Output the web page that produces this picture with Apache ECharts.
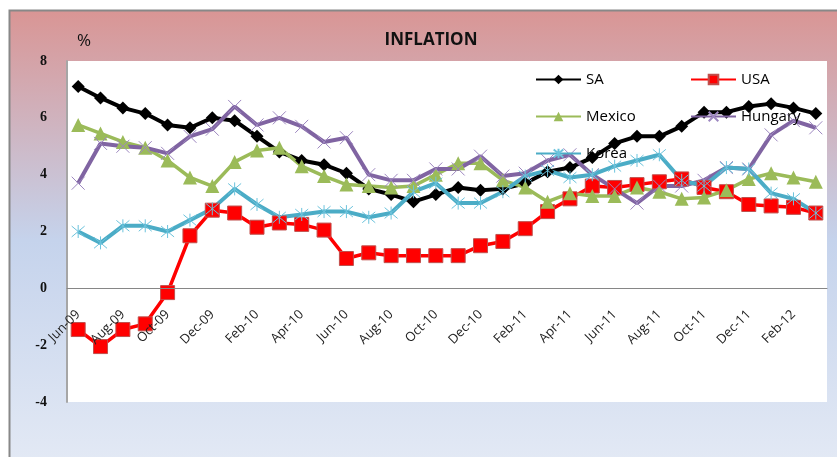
<!DOCTYPE html>
<html>
<head>
<meta charset="utf-8">
<title>INFLATION</title>
<script src="https://cdn.jsdelivr.net/npm/echarts@6/dist/echarts.min.js"></script>
<style>
  html, body { margin: 0; padding: 0; background: #ffffff; }
  #chart { width: 837px; height: 457px; }
</style>
</head>
<body>
<div id="chart"></div>
<script>
// months Jun-09 .. Mar-12
const months = [
  'Jun-09', 'Jul-09', 'Aug-09', 'Sep-09', 'Oct-09', 'Nov-09', 'Dec-09',
  'Jan-10', 'Feb-10', 'Mar-10', 'Apr-10', 'May-10', 'Jun-10', 'Jul-10', 'Aug-10', 'Sep-10', 'Oct-10', 'Nov-10', 'Dec-10',
  'Jan-11', 'Feb-11', 'Mar-11', 'Apr-11', 'May-11', 'Jun-11', 'Jul-11', 'Aug-11', 'Sep-11', 'Oct-11', 'Nov-11', 'Dec-11',
  'Jan-12', 'Feb-12', 'Mar-12'
]

const saData = [7.1, 6.7, 6.35, 6.15, 5.75, 5.65, 6.0, 5.9, 5.35, 4.8, 4.5, 4.35, 4.05, 3.5, 3.3, 3.05, 3.3, 3.55, 3.45, 3.5, 3.7, 4.1, 4.25, 4.6, 5.1, 5.35, 5.35, 5.7, 6.2, 6.2, 6.4, 6.5, 6.35, 6.15]
const usaData = [-1.45, -2.05, -1.45, -1.25, -0.15, 1.85, 2.75, 2.65, 2.15, 2.3, 2.25, 2.05, 1.05, 1.25, 1.15, 1.15, 1.15, 1.15, 1.5, 1.65, 2.1, 2.7, 3.15, 3.6, 3.55, 3.65, 3.75, 3.85, 3.55, 3.4, 2.95, 2.9, 2.85, 2.65]
const mexicoData = [5.75, 5.45, 5.15, 4.95, 4.5, 3.9, 3.6, 4.45, 4.85, 4.95, 4.3, 3.95, 3.65, 3.6, 3.55, 3.6, 4.0, 4.4, 4.4, 3.8, 3.55, 3.05, 3.35, 3.25, 3.25, 3.55, 3.4, 3.15, 3.2, 3.45, 3.85, 4.05, 3.9, 3.75]
const hungaryData = [3.7, 5.1, 5.0, 4.95, 4.75, 5.35, 5.6, 6.4, 5.75, 6.0, 5.7, 5.15, 5.3, 4.0, 3.8, 3.8, 4.2, 4.2, 4.65, 3.95, 4.05, 4.5, 4.7, 4.0, 3.5, 3.0, 3.6, 3.6, 3.8, 4.25, 4.2, 5.4, 5.9, 5.65]
const koreaData = [2.0, 1.6, 2.2, 2.2, 2.0, 2.4, 2.8, 3.5, 2.95, 2.5, 2.6, 2.7, 2.7, 2.5, 2.65, 3.4, 3.7, 3.0, 3.0, 3.4, 3.95, 4.15, 3.9, 4.0, 4.3, 4.5, 4.7, 3.8, 3.6, 4.25, 4.2, 3.35, 3.15, 2.65]

const Y_MIN = -4
const Y_MAX = 8
const Y_STEP = 2

const GRID_TOP = 61
const GRID_BOTTOM = 55
const CHART_H = 457

// excel puts the category labels right under the zero line
const plotHeight = CHART_H - GRID_TOP - GRID_BOTTOM
const zeroOffset = -plotHeight * (0 - Y_MIN) / (Y_MAX - Y_MIN)

const chart = echarts.init(document.getElementById('chart'))

const crossPath = 'path://M0,0L10,10M10,0L0,10'
const starPath = 'path://M0,0L10,10M10,0L0,10M5,-1L5,11'

const legendText = { fontFamily: 'Open Sans', fontSize: 15, color: '#000' }

const option = {
  animation: false,
  backgroundColor: '#ffffff',
  graphic: [
    {
      type: 'rect',
      z: -10,
      shape: { x: 9.5, y: 10.5, width: 840, height: 460 },
      style: {
        fill: {
          type: 'linear', x: 0, y: 0, x2: 0, y2: 1,
          colorStops: [
            { offset: 0, color: '#d99594' },
            { offset: 0.5, color: '#c5d3ec' },
            { offset: 1, color: '#e4eaf5' }
          ]
        },
        stroke: '#888888',
        lineWidth: 2
      }
    },
    {
      type: 'text',
      left: 77,
      top: 33,
      style: { text: '%', fontSize: 17, fontFamily: 'Open Sans', fill: '#111' }
    }
  ],
  title: {
    text: 'INFLATION',
    left: 426,
    top: 27,
    textAlign: 'center',
    textStyle: { fontFamily: 'Open Sans', fontWeight: 'bold', fontSize: 17, color: '#111' }
  },
  legend: [
    {
      data: ['SA', 'Mexico', 'Korea'],
      orient: 'vertical',
      left: 535,
      top: 72,
      padding: 0,
      itemWidth: 45,
      itemHeight: 12,
      itemGap: 22,
      lineStyle: { width: 2 },
      textStyle: legendText
    },
    {
      data: ['USA', 'Hungary'],
      orient: 'vertical',
      left: 690,
      top: 72,
      padding: 0,
      itemWidth: 45,
      itemHeight: 12,
      itemGap: 22,
      lineStyle: { width: 2 },
      textStyle: legendText
    }
  ],
  grid: {
    left: 67,
    right: 10,
    top: GRID_TOP,
    bottom: GRID_BOTTOM,
    show: true,
    backgroundColor: '#ffffff',
    borderWidth: 0
  },
  xAxis: {
    type: 'category',
    data: months,
    boundaryGap: true,
    position: 'bottom',
    offset: zeroOffset,
    z: 10,
    axisLine: { onZero: false, lineStyle: { color: '#868686', width: 1 } },
    axisTick: { show: false },
    axisLabel: {
      interval: 1,
      rotate: 45,
      margin: 24,
      fontFamily: 'Open Sans',
      fontSize: 13,
      color: '#222'
    },
    splitLine: { show: false }
  },
  yAxis: {
    type: 'value',
    min: Y_MIN,
    max: Y_MAX,
    interval: Y_STEP,
    axisLine: { show: true, lineStyle: { color: '#a6a6a6', width: 2 } },
    axisTick: { show: false },
    axisLabel: {
      margin: 20,
      fontFamily: 'Liberation Serif',
      fontWeight: 'bold',
      fontSize: 14,
      color: '#111'
    },
    splitLine: { show: false }
  },
  series: [
    {
      name: 'SA',
      type: 'line',
      data: saData,
      symbol: 'diamond',
      symbolSize: 13,
      lineStyle: { color: '#000000', width: 4 },
      itemStyle: { color: '#000000' }
    },
    {
      name: 'USA',
      type: 'line',
      data: usaData,
      symbol: 'rect',
      symbolSize: 14,
      lineStyle: { color: '#ff0000', width: 3.5 },
      itemStyle: { color: '#ff0000', borderColor: '#c0504d', borderWidth: 1 }
    },
    {
      name: 'Mexico',
      type: 'line',
      data: mexicoData,
      symbol: 'triangle',
      symbolSize: 14,
      lineStyle: { color: '#9bbb59', width: 3.5 },
      itemStyle: { color: '#9bbb59' }
    },
    {
      name: 'Hungary',
      type: 'line',
      data: hungaryData,
      symbol: crossPath,
      symbolSize: 13,
      showAllSymbol: true,
      lineStyle: { color: '#8064a2', width: 4 },
      itemStyle: { color: 'none', borderColor: '#9d87c0', borderWidth: 1 }
    },
    {
      name: 'Korea',
      type: 'line',
      data: koreaData,
      symbol: starPath,
      symbolSize: 13,
      showAllSymbol: true,
      lineStyle: { color: '#4bacc6', width: 4 },
      itemStyle: { color: 'none', borderColor: '#6cc3dc', borderWidth: 1 }
    }
  ]
}

chart.setOption(option)
</script>
</body>
</html>
